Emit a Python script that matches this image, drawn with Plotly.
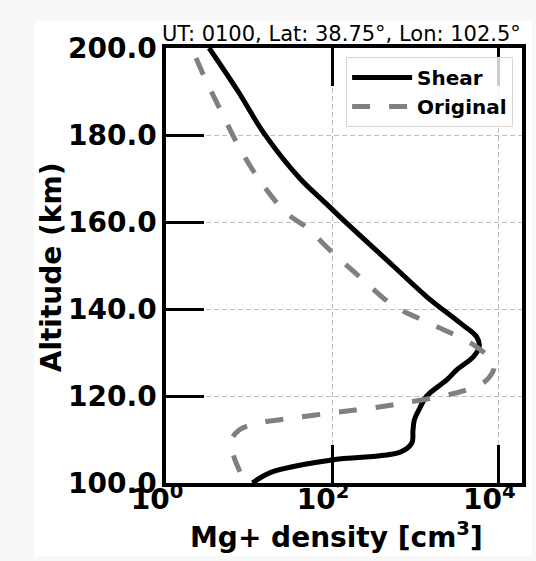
import plotly.graph_objects as go

# Shear profile (altitude km, Mg+ density cm^-3)
shear_alt = [200, 190, 180.5, 170, 164.4, 160.2, 150, 142.8, 136.8, 133.6, 131.3, 129, 126,
             123.7, 120, 117, 114.5, 112, 109.2, 107.1, 105.3, 102.5, 100]
shear_den = [3.3, 7.4, 15, 41, 83, 141, 537, 1380, 3470, 5500, 5900, 5000, 3160,
             2400, 1380, 1120, 977, 940, 912, 661, 98, 18.6, 11]

# Original profile
orig_alt = [197.7, 193.3, 185.1, 176.6, 169.0, 162.1, 158.9, 152.9, 147.1, 140.9, 137.0,
            132.9, 131.0, 128.5, 126.5, 124.5, 123.2, 121.4, 120.2, 118.6, 117.2, 116.1,
            114.9, 113.8, 112.2, 109.9, 106.4, 103.0, 100.0]
orig_den = [2.3, 2.9, 4.7, 7.9, 14.1, 28, 48, 102, 224, 537, 1380,
            3980, 5750, 8130, 8910, 7940, 6760, 4170, 2400, 851, 288, 98,
            32, 13.2, 7.6, 6.2, 6.5, 7.6, 9.1]

y_ticks = [100, 120, 140, 160, 180, 200]
x_ticks = [1, 100, 10000]
x_ticktext = ["10<sup>0</sup>", "10<sup>2</sup>", "10<sup>4</sup>"]

title_text = "UT: 0100, Lat: 38.75°, Lon: 102.5°"

W, H = 536, 561
L, R, T, B = 166, 10, 48, 78
pw, ph = W - L - R, H - T - B

def px(x):
    return (x - L) / pw

def py(y):
    return (H - B - y) / ph

FONT = "DejaVu Sans"

fig = go.Figure()
fig.add_trace(go.Scatter(x=shear_den, y=shear_alt, mode="lines", name="Shear",
                         line=dict(color="black", width=5, shape="spline", smoothing=1.0)))
fig.add_trace(go.Scatter(x=orig_den, y=orig_alt, mode="lines", name="Original",
                         line=dict(color="#808080", width=5, dash="18px,19px",
                                   shape="spline", smoothing=1.0)))

fig.update_layout(
    width=W, height=H,
    margin=dict(l=L, r=R, t=T, b=B, pad=0),
    paper_bgcolor="#f8f8f8",
    plot_bgcolor="white",
    showlegend=True,
    legend=dict(x=px(517), y=py(57), xanchor="right", yanchor="top",
                bgcolor="rgba(255,255,255,0.8)", bordercolor="#d8d8d8", borderwidth=1,
                font=dict(family=FONT, size=20, color="black", weight="bold"),
                itemwidth=60, tracegroupgap=0),
    shapes=[dict(type="rect", xref="paper", yref="paper", layer="below",
                 x0=px(33), x1=px(536), y0=py(556), y1=py(21),
                 fillcolor="white", line=dict(width=0))],
    annotations=[
        dict(text=title_text, xref="paper", yref="paper", x=px(343), y=py(48),
             xanchor="center", yanchor="bottom", showarrow=False,
             font=dict(family=FONT, size=21, color="black")),
        dict(text="Altitude (km)", xref="paper", yref="paper", x=px(50), y=py(267),
             xanchor="center", yanchor="middle", textangle=-90, showarrow=False,
             font=dict(family=FONT, size=28, color="black", weight="bold")),
        dict(text="Mg+ density [cm<sup>3</sup>]", xref="paper", yref="paper",
             x=px(338), y=py(535), xanchor="center", yanchor="middle", showarrow=False,
             font=dict(family=FONT, size=28, color="black", weight="bold")),
    ],
)

fig.update_xaxes(type="log", range=[0, 4.286], tickvals=x_ticks, ticktext=x_ticktext,
                 ticks="inside", ticklen=38, tickwidth=3, tickcolor="black",
                 showline=True, linewidth=3.5, linecolor="black", mirror="ticks",
                 showgrid=True, gridcolor="#bdbdbd", gridwidth=1, griddash="5px,3px",
                 zeroline=False, ticklabelshift=-9, ticklabelstandoff=-11,
                 tickfont=dict(family=FONT, size=28, color="black", weight="bold"))
fig.update_yaxes(range=[100, 200], tickvals=y_ticks, tickformat=".1f",
                 ticks="inside", ticklen=38, tickwidth=3, tickcolor="black",
                 showline=True, linewidth=3.5, linecolor="black", mirror=True,
                 showgrid=True, gridcolor="#bdbdbd", gridwidth=1, griddash="5px,3px",
                 zeroline=False,
                 tickfont=dict(family=FONT, size=28, color="black", weight="bold"))

fig.write_html("out.html")
